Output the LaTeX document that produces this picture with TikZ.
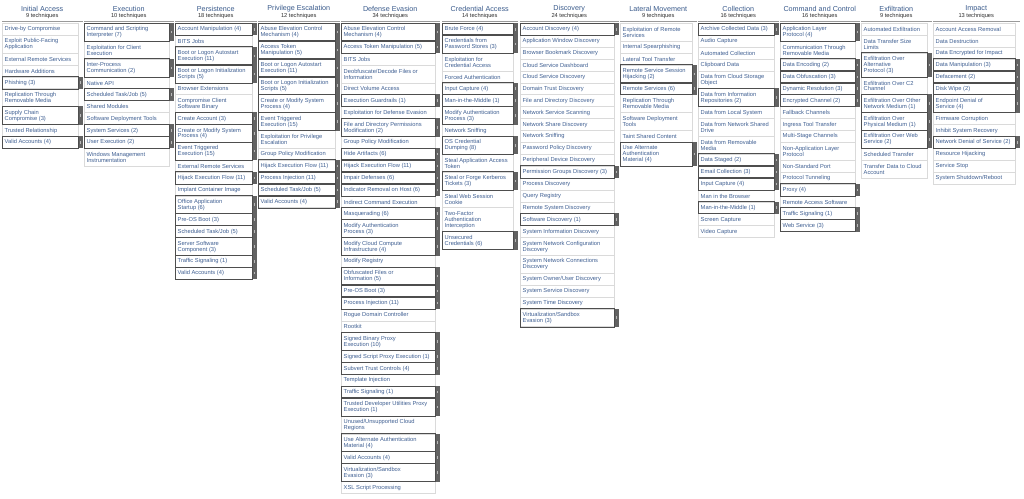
\documentclass[tikz,border=0pt]{standalone}
\usepackage{fontspec}
\setmainfont{Liberation Sans}
\usetikzlibrary{calc}
\pgfdeclarelayer{fg}
\pgfsetlayers{main,fg}
\definecolor{titlecol}{HTML}{3A5B8C}
\definecolor{subcol}{HTML}{2E2E2E}
\definecolor{techcol}{HTML}{3F5F92}
\definecolor{lightb}{HTML}{DADADA}
\definecolor{darkb}{HTML}{4E4E4E}
\definecolor{sidecol}{HTML}{626262}
\definecolor{markcol}{HTML}{B8B8B8}
\definecolor{hdrcol}{HTML}{9A9A9A}
\newcount\techn
\tikzset{
  coltitle/.style={font=\fontsize{7.2}{8}\selectfont, text=titlecol, inner sep=0pt},
  colsub/.style={font=\fontsize{5.7}{6}\selectfont, text=subcol, inner sep=0pt},
  techbox/.style={draw=lightb, line width=0.5pt, fill=white, inner sep=0pt},
  techtext/.style={align=left, font=\fontsize{5.75}{5.95}\selectfont, text=techcol, inner sep=0pt},
  darkframe/.style={draw=darkb, line width=0.9pt},
  sidebar/.style={fill=sidecol},
  sidemark/.style={fill=markcol},
  hdrline/.style={draw=hdrcol, line width=0.6pt}
}
\newcommand\startcol[5]{%
  \gdef\colid{#1}\gdef\colxl{#2}\gdef\colxr{#3}\gdef\curY{23}\global\techn=0
  \pgfmathsetmacro\colmid{(#2+#3+4.5)/2}
  \node[coltitle] (#1-title) at (\colmid,9) {#4};
  \node[colsub] (#1-sub) at (\colmid,16) {#5};
  \coordinate (#1-hl) at (#2,21.5);
  \coordinate (#1-hr) at (#3+4.5,21.5);
  \draw[hdrline] (#1-hl) -- (#1-hr);
}
\newcommand\tech[3]{%
  \global\advance\techn by 1
  \pgfmathsetmacro\rowh{(#1+1)*5.95}
  \pgfmathsetmacro\roww{\colxr-\colxl}
  \node[techbox, minimum height=\rowh pt, minimum width=\roww pt, anchor=north west]
     (\colid-\the\techn) at (\colxl,\curY) {};
  \node[techtext, anchor=west] (\colid-\the\techn-t) at ($(\colid-\the\techn.west)+(2.5,0.2)$) {#3};
  \ifnum#2=1
    \begin{pgfonlayer}{fg}
      \draw[darkframe] (\colid-\the\techn.north west) rectangle (\colid-\the\techn.south east);
    \end{pgfonlayer}
    \fill[sidebar] (\colid-\the\techn.north east) rectangle ($(\colid-\the\techn.south east)+(4.5,0)$);
    \fill[sidemark] ($(\colid-\the\techn.east)+(1.6,-1.3)$) rectangle ($(\colid-\the\techn.east)+(2.9,1.3)$);
  \fi
  \pgfmathsetmacro\newY{\curY+\rowh}\xdef\curY{\newY}
}
\begin{document}
\begin{tikzpicture}[x=1pt,y=-1pt]
\useasboundingbox (0,0) rectangle (1024,498);
\fill[white] (0,0) rectangle (1024,498);

\startcol{ia}{2}{78}{Initial Access}{9 techniques}
\tech{1}{0}{Drive-by Compromise}
\tech{2}{0}{Exploit Public-Facing\\Application}
\tech{1}{0}{External Remote Services}
\tech{1}{0}{Hardware Additions}
\tech{1}{1}{Phishing (3)}
\tech{2}{0}{Replication Through\\Removable Media}
\tech{2}{1}{Supply Chain\\Compromise (3)}
\tech{1}{0}{Trusted Relationship}
\tech{1}{1}{Valid Accounts (4)}

\startcol{ex}{84}{169}{Execution}{10 techniques}
\tech{2}{1}{Command and Scripting\\Interpreter (7)}
\tech{2}{0}{Exploitation for Client\\Execution}
\tech{2}{1}{Inter-Process\\Communication (2)}
\tech{1}{0}{Native API}
\tech{1}{1}{Scheduled Task/Job (5)}
\tech{1}{0}{Shared Modules}
\tech{1}{0}{Software Deployment Tools}
\tech{1}{1}{System Services (2)}
\tech{1}{1}{User Execution (2)}
\tech{2}{0}{Windows Management\\Instrumentation}

\startcol{pe}{175}{252}{Persistence}{18 techniques}
\tech{1}{1}{Account Manipulation (4)}
\tech{1}{0}{BITS Jobs}
\tech{2}{1}{Boot or Logon Autostart\\Execution (11)}
\tech{2}{1}{Boot or Logon Initialization\\Scripts (5)}
\tech{1}{0}{Browser Extensions}
\tech{2}{0}{Compromise Client\\Software Binary}
\tech{1}{1}{Create Account (3)}
\tech{2}{1}{Create or Modify System\\Process (4)}
\tech{2}{1}{Event Triggered\\Execution (15)}
\tech{1}{0}{External Remote Services}
\tech{1}{1}{Hijack Execution Flow (11)}
\tech{1}{0}{Implant Container Image}
\tech{2}{1}{Office Application\\Startup (6)}
\tech{1}{1}{Pre-OS Boot (3)}
\tech{1}{1}{Scheduled Task/Job (5)}
\tech{2}{1}{Server Software\\Component (3)}
\tech{1}{1}{Traffic Signaling (1)}
\tech{1}{1}{Valid Accounts (4)}

\startcol{pr}{258}{335}{Privilege Escalation}{12 techniques}
\tech{2}{1}{Abuse Elevation Control\\Mechanism (4)}
\tech{2}{1}{Access Token\\Manipulation (5)}
\tech{2}{1}{Boot or Logon Autostart\\Execution (11)}
\tech{2}{1}{Boot or Logon Initialization\\Scripts (5)}
\tech{2}{1}{Create or Modify System\\Process (4)}
\tech{2}{1}{Event Triggered\\Execution (15)}
\tech{2}{0}{Exploitation for Privilege\\Escalation}
\tech{1}{0}{Group Policy Modification}
\tech{1}{1}{Hijack Execution Flow (11)}
\tech{1}{1}{Process Injection (11)}
\tech{1}{1}{Scheduled Task/Job (5)}
\tech{1}{1}{Valid Accounts (4)}

\startcol{de}{341}{435}{Defense Evasion}{34 techniques}
\tech{2}{1}{Abuse Elevation Control\\Mechanism (4)}
\tech{1}{1}{Access Token Manipulation (5)}
\tech{1}{0}{BITS Jobs}
\tech{2}{0}{Deobfuscate/Decode Files or\\Information}
\tech{1}{0}{Direct Volume Access}
\tech{1}{1}{Execution Guardrails (1)}
\tech{1}{0}{Exploitation for Defense Evasion}
\tech{2}{1}{File and Directory Permissions\\Modification (2)}
\tech{1}{0}{Group Policy Modification}
\tech{1}{1}{Hide Artifacts (6)}
\tech{1}{1}{Hijack Execution Flow (11)}
\tech{1}{1}{Impair Defenses (6)}
\tech{1}{1}{Indicator Removal on Host (6)}
\tech{1}{0}{Indirect Command Execution}
\tech{1}{1}{Masquerading (6)}
\tech{2}{1}{Modify Authentication\\Process (3)}
\tech{2}{1}{Modify Cloud Compute\\Infrastructure (4)}
\tech{1}{0}{Modify Registry}
\tech{2}{1}{Obfuscated Files or\\Information (5)}
\tech{1}{1}{Pre-OS Boot (3)}
\tech{1}{1}{Process Injection (11)}
\tech{1}{0}{Rogue Domain Controller}
\tech{1}{0}{Rootkit}
\tech{2}{1}{Signed Binary Proxy\\Execution (10)}
\tech{1}{1}{Signed Script Proxy Execution (1)}
\tech{1}{1}{Subvert Trust Controls (4)}
\tech{1}{0}{Template Injection}
\tech{1}{1}{Traffic Signaling (1)}
\tech{2}{1}{Trusted Developer Utilities Proxy\\Execution (1)}
\tech{2}{0}{Unused/Unsupported Cloud\\Regions}
\tech{2}{1}{Use Alternate Authentication\\Material (4)}
\tech{1}{1}{Valid Accounts (4)}
\tech{2}{1}{Virtualization/Sandbox\\Evasion (3)}
\tech{1}{0}{XSL Script Processing}

\startcol{ca}{442}{513}{Credential Access}{14 techniques}
\tech{1}{1}{Brute Force (4)}
\tech{2}{1}{Credentials from\\Password Stores (3)}
\tech{2}{0}{Exploitation for\\Credential Access}
\tech{1}{0}{Forced Authentication}
\tech{1}{1}{Input Capture (4)}
\tech{1}{1}{Man-in-the-Middle (1)}
\tech{2}{1}{Modify Authentication\\Process (3)}
\tech{1}{0}{Network Sniffing}
\tech{2}{1}{OS Credential\\Dumping (8)}
\tech{2}{0}{Steal Application Access\\Token}
\tech{2}{1}{Steal or Forge Kerberos\\Tickets (3)}
\tech{2}{0}{Steal Web Session\\Cookie}
\tech{3}{0}{Two-Factor\\Authentication\\Interception}
\tech{2}{1}{Unsecured\\Credentials (6)}

\startcol{di}{520}{614}{Discovery}{24 techniques}
\tech{1}{1}{Account Discovery (4)}
\tech{1}{0}{Application Window Discovery}
\tech{1}{0}{Browser Bookmark Discovery}
\tech{1}{0}{Cloud Service Dashboard}
\tech{1}{0}{Cloud Service Discovery}
\tech{1}{0}{Domain Trust Discovery}
\tech{1}{0}{File and Directory Discovery}
\tech{1}{0}{Network Service Scanning}
\tech{1}{0}{Network Share Discovery}
\tech{1}{0}{Network Sniffing}
\tech{1}{0}{Password Policy Discovery}
\tech{1}{0}{Peripheral Device Discovery}
\tech{1}{1}{Permission Groups Discovery (3)}
\tech{1}{0}{Process Discovery}
\tech{1}{0}{Query Registry}
\tech{1}{0}{Remote System Discovery}
\tech{1}{1}{Software Discovery (1)}
\tech{1}{0}{System Information Discovery}
\tech{2}{0}{System Network Configuration\\Discovery}
\tech{2}{0}{System Network Connections\\Discovery}
\tech{1}{0}{System Owner/User Discovery}
\tech{1}{0}{System Service Discovery}
\tech{1}{0}{System Time Discovery}
\tech{2}{1}{Virtualization/Sandbox\\Evasion (3)}

\startcol{lm}{620}{692}{Lateral Movement}{9 techniques}
\tech{2}{0}{Exploitation of Remote\\Services}
\tech{1}{0}{Internal Spearphishing}
\tech{1}{0}{Lateral Tool Transfer}
\tech{2}{1}{Remote Service Session\\Hijacking (2)}
\tech{1}{1}{Remote Services (6)}
\tech{2}{0}{Replication Through\\Removable Media}
\tech{2}{0}{Software Deployment\\Tools}
\tech{1}{0}{Taint Shared Content}
\tech{3}{1}{Use Alternate\\Authentication\\Material (4)}

\startcol{co}{698}{774}{Collection}{16 techniques}
\tech{1}{1}{Archive Collected Data (3)}
\tech{1}{0}{Audio Capture}
\tech{1}{0}{Automated Collection}
\tech{1}{0}{Clipboard Data}
\tech{2}{0}{Data from Cloud Storage\\Object}
\tech{2}{1}{Data from Information\\Repositories (2)}
\tech{1}{0}{Data from Local System}
\tech{2}{0}{Data from Network Shared\\Drive}
\tech{2}{0}{Data from Removable\\Media}
\tech{1}{1}{Data Staged (2)}
\tech{1}{1}{Email Collection (3)}
\tech{1}{1}{Input Capture (4)}
\tech{1}{0}{Man in the Browser}
\tech{1}{1}{Man-in-the-Middle (1)}
\tech{1}{0}{Screen Capture}
\tech{1}{0}{Video Capture}

\startcol{cc}{780}{855}{Command and Control}{16 techniques}
\tech{2}{1}{Application Layer\\Protocol (4)}
\tech{2}{0}{Communication Through\\Removable Media}
\tech{1}{1}{Data Encoding (2)}
\tech{1}{1}{Data Obfuscation (3)}
\tech{1}{1}{Dynamic Resolution (3)}
\tech{1}{1}{Encrypted Channel (2)}
\tech{1}{0}{Fallback Channels}
\tech{1}{0}{Ingress Tool Transfer}
\tech{1}{0}{Multi-Stage Channels}
\tech{2}{0}{Non-Application Layer\\Protocol}
\tech{1}{0}{Non-Standard Port}
\tech{1}{0}{Protocol Tunneling}
\tech{1}{1}{Proxy (4)}
\tech{1}{0}{Remote Access Software}
\tech{1}{1}{Traffic Signaling (1)}
\tech{1}{1}{Web Service (3)}

\startcol{xf}{861}{927}{Exfiltration}{9 techniques}
\tech{1}{0}{Automated Exfiltration}
\tech{2}{0}{Data Transfer Size\\Limits}
\tech{3}{1}{Exfiltration Over\\Alternative\\Protocol (3)}
\tech{2}{0}{Exfiltration Over C2\\Channel}
\tech{2}{1}{Exfiltration Over Other\\Network Medium (1)}
\tech{2}{1}{Exfiltration Over\\Physical Medium (1)}
\tech{2}{1}{Exfiltration Over Web\\Service (2)}
\tech{1}{0}{Scheduled Transfer}
\tech{2}{0}{Transfer Data to Cloud\\Account}

\startcol{im}{933}{1015}{Impact}{13 techniques}
\tech{1}{0}{Account Access Removal}
\tech{1}{0}{Data Destruction}
\tech{1}{0}{Data Encrypted for Impact}
\tech{1}{1}{Data Manipulation (3)}
\tech{1}{1}{Defacement (2)}
\tech{1}{1}{Disk Wipe (2)}
\tech{2}{1}{Endpoint Denial of\\Service (4)}
\tech{1}{0}{Firmware Corruption}
\tech{1}{0}{Inhibit System Recovery}
\tech{1}{1}{Network Denial of Service (2)}
\tech{1}{0}{Resource Hijacking}
\tech{1}{0}{Service Stop}
\tech{1}{0}{System Shutdown/Reboot}
\end{tikzpicture}
\end{document}
